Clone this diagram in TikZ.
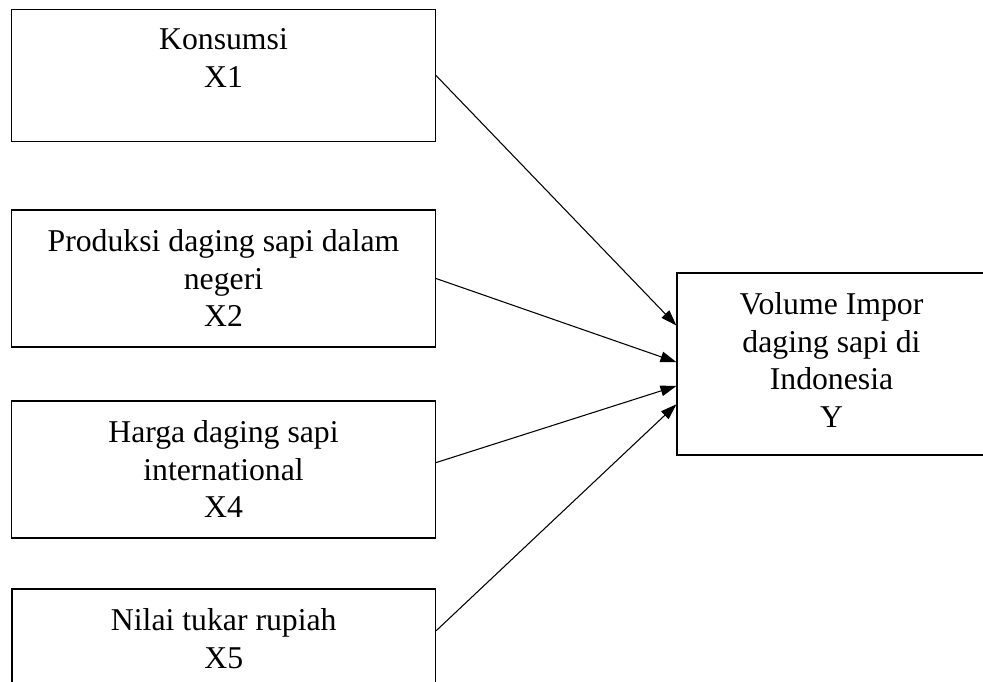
\documentclass[tikz,border=0pt]{standalone}
\usepackage{fontspec}
\setmainfont{Liberation Serif}
\usetikzlibrary{positioning,calc,fit,arrows.meta}

\begin{document}
\begin{tikzpicture}[
    x=0.75pt, y=-0.75pt,
    box/.style={draw, rectangle, inner sep=0pt, line width=0.8pt},
    boxtext/.style={below=14.75pt of #1, inner sep=0pt, align=center, font=\fontsize{23.8}{28.2}\selectfont},
    link/.style={draw, line width=0.8pt, -{Triangle[length=12pt, width=8pt]}}
]

% Page frame
\path[use as bounding box] (0,0) rectangle (983,682);
\clip (0,0) rectangle (983,682);

% Define boxes
\node[box, fit={(11.5,9.3) (435.5,141.7)}] (x1) {};
\node[box, fit={(11.5,210) (435.5,347)}] (x2) {};
\node[box, fit={(11.5,401) (435.5,538)}] (x4) {};
\node[box, fit={(12,589) (435.5,726)}] (x5) {};
\node[box, fit={(677,273) (986,455)}] (y) {};

% Add texts inside boxes
\node[boxtext=x1.north] {Konsumsi\\X1};
\node[boxtext=x2.north] {Produksi daging sapi dalam\\negeri\\X2};
\node[boxtext=x4.north] {Harga daging sapi\\international\\X4};
\node[boxtext=x5.north] {Nilai tukar rupiah\\X5};
\node[boxtext=y.north] {Volume Impor\\daging sapi di\\Indonesia\\Y};

% Draw arrows
\draw[link] (x1.east) -- ($(y.north west)!0.29!(y.south west)$);
\draw[link] (x2.east) -- ($(y.north west)!0.49!(y.south west)$);
\draw[link] ($(x4.north east)!0.45!(x4.south east)$) -- ($(y.north west)!0.62!(y.south west)$);
\draw[link] ($(x5.north east)!0.307!(x5.south east)$) -- ($(y.north west)!0.72!(y.south west)$);

\end{tikzpicture}
\end{document}
